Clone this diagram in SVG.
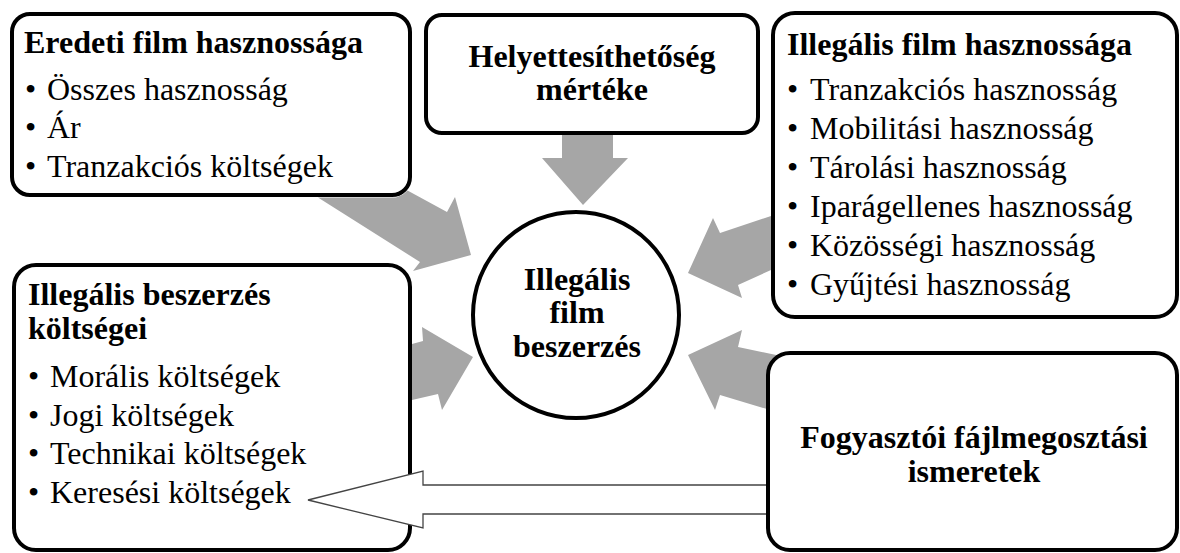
<svg xmlns="http://www.w3.org/2000/svg" width="1180" height="553" viewBox="0 0 1180 553" font-family="'Liberation Serif', Tinos, 'Times New Roman', 'DejaVu Serif', serif">
<style>
.box{fill:#fff;stroke:#000;stroke-width:4}
.ga{fill:#a6a6a6;stroke:none}
text{font-family:'Liberation Serif', Tinos, 'Times New Roman', 'DejaVu Serif', serif;font-size:32px;fill:#000}
.b{font-weight:bold}
.c{text-anchor:middle}
</style>
<rect width="1180" height="553" fill="#fff"/>
<g id="eredeti">
<rect class="box" x="12" y="14" width="398" height="181" rx="18"/>
<text class="b" x="24" y="53">Eredeti film hasznossága</text>
<text x="25" y="100">•</text><text x="47" y="100">Összes hasznosság</text>
<text x="25" y="138">•</text><text x="47" y="138">Ár</text>
<text x="25" y="177">•</text><text x="47" y="177">Tranzakciós költségek</text>
</g>
<g id="helyettesithetoseg">
<rect class="box" x="426" y="15" width="332" height="118" rx="16"/>
<text class="b c" x="592" y="67">Helyettesíthetőség</text>
<text class="b c" x="592" y="100">mértéke</text>
</g>
<g id="illegalis-film">
<rect class="box" x="773" y="13" width="404" height="304" rx="22"/>
<text class="b" x="787" y="55">Illegális film hasznossága</text>
<text x="787" y="100">•</text><text x="810" y="100">Tranzakciós hasznosság</text>
<text x="787" y="139">•</text><text x="810" y="139">Mobilitási hasznosság</text>
<text x="787" y="178">•</text><text x="810" y="178">Tárolási hasznosság</text>
<text x="787" y="217">•</text><text x="810" y="217">Iparágellenes hasznosság</text>
<text x="787" y="256">•</text><text x="810" y="256">Közösségi hasznosság</text>
<text x="787" y="295">•</text><text x="810" y="295">Gyűjtési hasznosság</text>
</g>
<g id="illegalis-beszerzes">
<rect class="box" x="14" y="265" width="396" height="285" rx="22"/>
<text class="b" x="28" y="305">Illegális beszerzés</text>
<text class="b" x="28" y="339">költségei</text>
<text x="28" y="387">•</text><text x="50" y="387">Morális költségek</text>
<text x="28" y="426">•</text><text x="50" y="426">Jogi költségek</text>
<text x="28" y="464">•</text><text x="50" y="464">Technikai költségek</text>
<text x="28" y="503">•</text><text x="50" y="503">Keresési költségek</text>
</g>
<g id="connectors">
<polygon class="ga" points="562,135 613,135 613,158 628,158 583,205 542,158 562,158"/>
<polygon class="ga" points="318,197.5 396,197.5 403,194.5 407.5,190.5 447,212 455,197 471,255 413,271 420,262"/>
<polygon class="ga" points="771,216 720,233 713,218 688,273 742,298 738,285 771,270"/>
<polygon class="ga" points="412,344 423,341 422,327 473,357 442,410 438,394 412,400"/>
<polygon class="ga" points="800,360 738,347 742,330 688,355 715,410 720,395 800,419"/>
<polygon points="800,485 423,485 423,471 308,500 423,528 423,514 800,514" fill="#fff" stroke="#444" stroke-width="1.3"/>
</g>
<g id="fogyasztoi">
<rect class="box" x="768" y="353" width="409" height="197" rx="22"/>
<text class="b c" x="974" y="448">Fogyasztói fájlmegosztási</text>
<text class="b c" x="974" y="482">ismeretek</text>
</g>
<g id="center">
<circle class="box" cx="576" cy="315" r="103"/>
<text class="b c" x="577" y="290">Illegális</text>
<text class="b c" x="577" y="323">film</text>
<text class="b c" x="577" y="357">beszerzés</text>
</g>
</svg>
